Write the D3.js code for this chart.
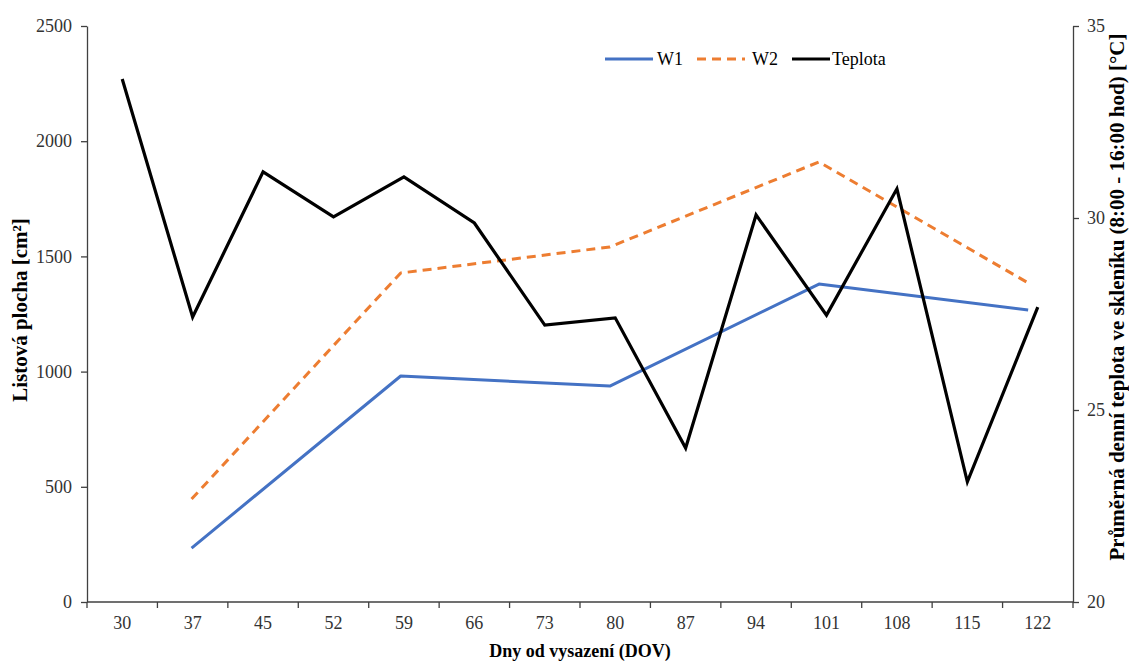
<!DOCTYPE html>
<html>
<head>
<meta charset="utf-8">
<script src="https://cdn.jsdelivr.net/npm/d3@7"></script>
<style>
  html, body { margin: 0; padding: 0; background: #fff; }
  svg { display: block; font-family: "Liberation Serif", "Times New Roman", serif; }
</style>
</head>
<body>
<svg id="chart" width="1129" height="664"></svg>
<script>
// Days after planting (category axis)
const days = [30, 37, 45, 52, 59, 66, 73, 80, 87, 94, 101, 108, 115, 122];

// Leaf area [cm²] – measured only on some days
const w1Days = [37, 59, 80, 101, 122];
const w1Values = [234, 981, 937, 1380, 1267];
const w2Days = [37, 59, 80, 101, 122];
const w2Values = [447, 1428, 1541, 1910, 1385];

// Mean daytime greenhouse temperature [°C]
const tempValues = [33.62, 27.42, 31.2, 30.03, 31.07, 29.87, 27.21, 27.4, 24.01, 30.08, 27.47, 30.76, 23.13, 27.68];

const leftTicks = [0, 500, 1000, 1500, 2000, 2500];
const rightTicks = [20, 25, 30, 35];

const svg = d3.select("#chart");
const plotLeft = 87, plotRight = 1073, plotTop = 26, plotBottom = 602;

const x = d3.scaleBand().domain(days).range([plotLeft, plotRight]).padding(0);
// leaf-area series sit on a slightly narrower secondary category axis
const xW = d3.scaleBand().domain(days).range([plotLeft, 1063]).padding(0);
const yL = d3.scaleLinear().domain([0, 2500]).range([plotBottom, plotTop]);
const yR = d3.scaleLinear().domain([20, 35]).range([plotBottom, plotTop]);

const axisColor = "#404040";
const textColor = "#333";
const tickFont = 18;

// X axis: ticks between categories
const gx = svg.append("g").attr("transform", `translate(0,${plotBottom})`);
gx.append("line").attr("x1", plotLeft).attr("x2", plotRight).attr("stroke", axisColor).attr("stroke-width", 1.3);
gx.selectAll("line.tick").data(d3.range(days.length + 1)).join("line")
  .attr("class", "tick")
  .attr("x1", i => plotLeft + i * x.step()).attr("x2", i => plotLeft + i * x.step())
  .attr("y1", 0).attr("y2", 6).attr("stroke", axisColor).attr("stroke-width", 1.3);
gx.selectAll("text").data(days).join("text")
  .attr("x", d => x(d) + x.bandwidth() / 2).attr("y", 27)
  .attr("text-anchor", "middle").attr("font-size", tickFont).attr("fill", textColor)
  .text(d => d);

// Left axis
const gl = svg.append("g").attr("transform", `translate(${plotLeft},0)`)
  .call(d3.axisLeft(yL).tickValues(leftTicks).tickFormat(d3.format("d"))
    .tickSize(6).tickPadding(9).tickSizeOuter(0));
gl.select(".domain").attr("stroke", axisColor).attr("stroke-width", 1.3);
gl.selectAll(".tick line").attr("stroke", axisColor).attr("stroke-width", 1.3);
gl.selectAll(".tick text").attr("font-size", tickFont).attr("fill", textColor)
  .attr("font-family", "Liberation Serif, serif");

// Right axis
const gr = svg.append("g").attr("transform", `translate(${plotRight},0)`)
  .call(d3.axisRight(yR).tickValues(rightTicks).tickFormat(d3.format("d"))
    .tickSize(6).tickPadding(8).tickSizeOuter(0));
gr.select(".domain").attr("stroke", axisColor).attr("stroke-width", 1.3);
gr.selectAll(".tick line").attr("stroke", axisColor).attr("stroke-width", 1.3);
gr.selectAll(".tick text").attr("font-size", tickFont).attr("fill", textColor)
  .attr("font-family", "Liberation Serif, serif");

// Axis titles
svg.append("text")
  .attr("transform", `translate(27,310) rotate(-90)`)
  .attr("text-anchor", "middle").attr("font-size", 21).attr("font-weight", "bold")
  .text("Listová plocha [cm²]");
svg.append("text")
  .attr("transform", `translate(1124,297) rotate(-90)`)
  .attr("text-anchor", "middle").attr("font-size", 21).attr("font-weight", "bold")
  .text("Průměrná denní teplota ve skleníku (8:00 - 16:00 hod) [°C]");
svg.append("text")
  .attr("x", 580).attr("y", 657)
  .attr("text-anchor", "middle").attr("font-size", 18).attr("font-weight", "bold")
  .text("Dny od vysazení (DOV)");

// Series lines
const lineW = d3.line().x(d => xW(d[0]) + xW.bandwidth() / 2).y(d => yL(d[1]));
const lineT = d3.line().x(d => x(d[0]) + x.bandwidth() / 2).y(d => yR(d[1]));

svg.append("path").datum(d3.zip(w1Days, w1Values))
  .attr("d", lineW).attr("fill", "none").attr("stroke", "#4472C4")
  .attr("stroke-width", 3).attr("stroke-linejoin", "round");
svg.append("path").datum(d3.zip(w2Days, w2Values))
  .attr("d", lineW).attr("fill", "none").attr("stroke", "#ED7D31")
  .attr("stroke-width", 3).attr("stroke-dasharray", "9,6").attr("stroke-linejoin", "round");
svg.append("path").datum(d3.zip(days, tempValues))
  .attr("d", lineT).attr("fill", "none").attr("stroke", "#000")
  .attr("stroke-width", 3.2).attr("stroke-linejoin", "miter");

// Legend
const legend = [
  { name: "W1", color: "#4472C4", dash: null, x1: 605, x2: 653, tx: 657 },
  { name: "W2", color: "#ED7D31", dash: "9,6", x1: 697, x2: 745, tx: 752 },
  { name: "Teplota", color: "#000", dash: null, x1: 792, x2: 830, tx: 832 }
];
const lg = svg.append("g");
legend.forEach(l => {
  lg.append("line").attr("x1", l.x1).attr("x2", l.x2).attr("y1", 59).attr("y2", 59)
    .attr("stroke", l.color).attr("stroke-width", 3).attr("stroke-dasharray", l.dash);
  lg.append("text").attr("x", l.tx).attr("y", 65).attr("font-size", 18).attr("fill", "#000").text(l.name);
});
</script>
</body>
</html>
